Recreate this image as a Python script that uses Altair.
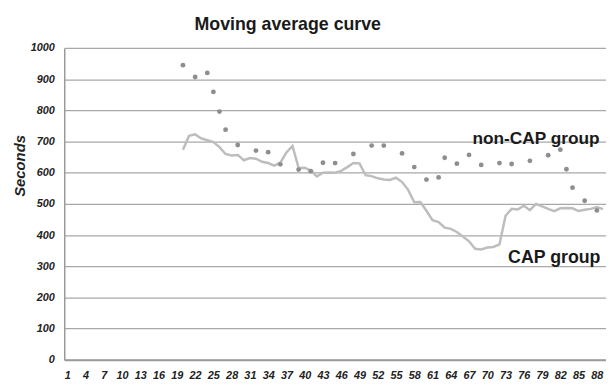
import altair as alt
import pandas as pd

# ---- data ----
categories = list(range(1, 90))
tick_labels = list(range(1, 89, 3))

# CAP group: moving-average curve
cap_case = list(range(20, 90))
cap_sec = [
    674, 718, 723, 710, 704, 698, 682, 660, 655, 657,   # 20-29
    640, 647, 645, 635, 631, 623, 632, 665, 686, 615,   # 30-39
    616, 607, 588, 600, 601, 600, 606, 618, 631, 630,   # 40-49
    592, 589, 582, 578, 577, 584, 570, 545, 505, 506,   # 50-59
    478, 448, 442, 424, 420, 410, 395, 380, 356, 354,   # 60-69
    360, 362, 370, 462, 484, 482, 494, 480, 500, 492,   # 70-79
    484, 477, 486, 487, 486, 477, 481, 484, 490, 483,   # 80-89
]

# non-CAP group: dots
noncap_case = [20, 22, 24, 25, 26, 27, 29, 32, 34, 36, 39, 41, 43, 45, 48,
               51, 53, 56, 58, 60, 62, 63, 65, 67, 69, 72, 74, 77, 80, 82,
               83, 84, 86, 88]
noncap_sec = [945, 907, 920, 859, 796, 738, 689, 671, 666, 627, 610, 605, 632, 631, 660,
              687, 687, 662, 618, 578, 585, 648, 629, 657, 625, 631, 628, 638, 656, 674,
              611, 552, 510, 479]

label_text = ["non-CAP group", "CAP group"]
label_case = [78, 81]
label_sec = [709, 326]

FONT = "Liberation Sans"

df_cap = pd.DataFrame({"case": cap_case, "sec": cap_sec})
df_non = pd.DataFrame({"case": noncap_case, "sec": noncap_sec})
df_lab = pd.DataFrame({"case": label_case, "sec": label_sec, "label": label_text})

x_enc = alt.X(
    "case:O",
    scale=alt.Scale(domain=categories, padding=0.5),
    axis=alt.Axis(
        values=tick_labels, labelAngle=0, title=None, ticks=False, grid=False,
        domainColor="#9a9a9a", domainWidth=2,
        labelFont=FONT, labelFontSize=11, labelFontWeight="bold",
        labelFontStyle="italic", labelColor="#222222", labelPadding=10,
    ),
)
y_enc = alt.Y(
    "sec:Q",
    scale=alt.Scale(domain=[0, 1000], nice=False),
    axis=alt.Axis(
        values=list(range(0, 1001, 100)), format="d", grid=True, gridColor="#a8a8a8",
        gridWidth=1.3, ticks=False, domainColor="#9a9a9a", domainWidth=1.5,
        labelFont=FONT, labelFontSize=11, labelFontWeight="bold",
        labelFontStyle="italic", labelColor="#222222", labelPadding=10,
        title="Seconds", titleFont=FONT, titleFontSize=15,
        titleFontWeight="bold", titleFontStyle="italic", titleColor="#222222",
        titleX=-40, titleY=119, titleBaseline="alphabetic", titleAngle=-90,
        titleAlign="center",
    ),
)

line = alt.Chart(df_cap).mark_line(color="#bdbdbd", strokeWidth=2.5).encode(x=x_enc, y=y_enc)
dots = alt.Chart(df_non).mark_circle(size=24, color="#8e8e8e", opacity=1).encode(x=x_enc, y=y_enc)

lab_non = alt.Chart(df_lab.iloc[[0]]).mark_text(
    font=FONT, fontSize=17.5, fontWeight="bold", color="#1a1a1a",
    align="center", baseline="middle",
).encode(x=x_enc, y=y_enc, text="label:N")
lab_cap = alt.Chart(df_lab.iloc[[1]]).mark_text(
    font=FONT, fontSize=18, fontWeight="bold", color="#1a1a1a",
    align="center", baseline="middle",
).encode(x=x_enc, y=y_enc, text="label:N")

chart = alt.layer(line, dots, lab_non, lab_cap).properties(
    width=549,
    height=316,
    title=alt.TitleParams(
        "Moving average curve", font=FONT, fontSize=18, fontWeight="bold",
        color="#1a1a1a", anchor="middle", dx=-48, offset=8,
    ),
    autosize=alt.AutoSizeParams(type="none"),
    padding={"left": 57, "top": 38, "right": 0, "bottom": 22},
).configure_view(stroke=None)

chart.save("out.html", embed_options={"renderer": "svg", "actions": False})
